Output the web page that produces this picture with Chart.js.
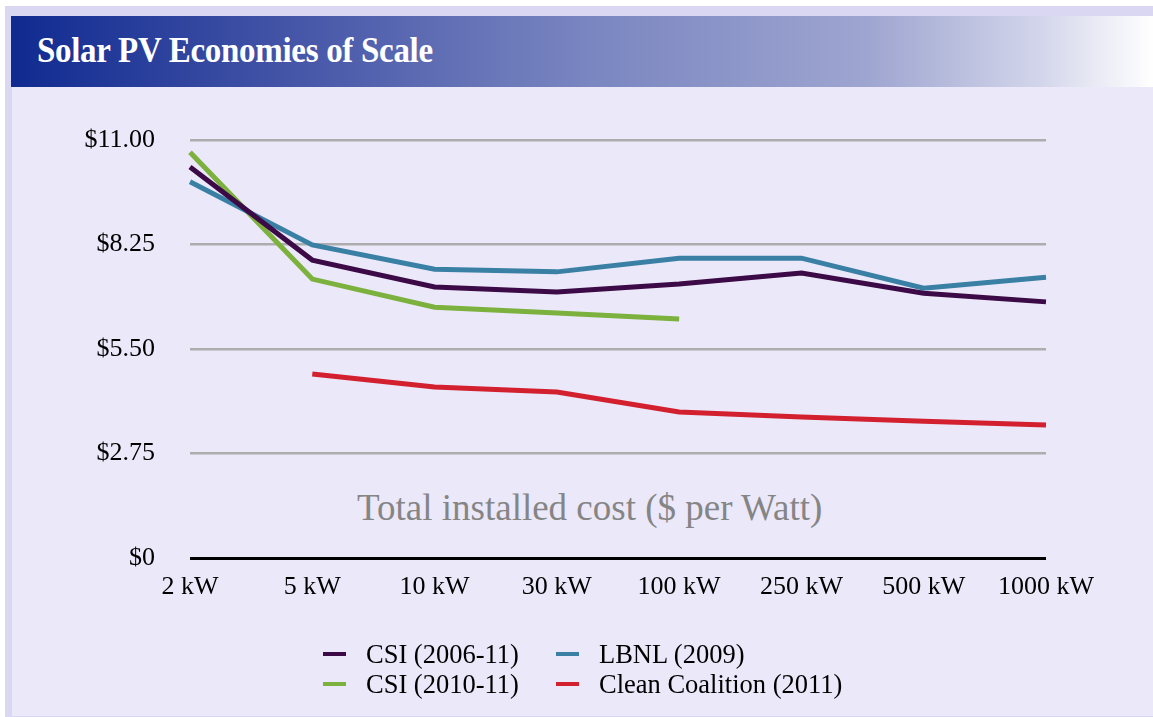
<!DOCTYPE html>
<html>
<head>
<meta charset="utf-8">
<script src="https://cdn.jsdelivr.net/npm/chart.js@4/dist/chart.umd.min.js"></script>
<style>
  html, body { margin: 0; padding: 0; background: #fff; }
  body { width: 1153px; height: 717px; position: relative; overflow: hidden; font-family: "Liberation Serif", "Times New Roman", serif; }
  #frame { position: absolute; left: 5px; top: 6px; right: 0; bottom: 0; background: #dad7f3; }
  #header { position: absolute; left: 11px; top: 16px; right: 0; height: 71px;
    background: linear-gradient(to right, #0f2a90 0%, #4656a8 25%, #7985c0 50%, #9ea5d0 75%, #d2d5ea 90%, #ffffff 100%); }
  #title { position: absolute; left: 37px; top: 31px; color: #fff; font-weight: bold; font-size: 33px; letter-spacing: -0.3px;
    transform: scaleY(1.06); transform-origin: left top; }
  #panel { position: absolute; left: 12px; top: 87px; right: 0; bottom: 1px; background: #ebe8fa; }
  #chart { position: absolute; left: 0; top: 0; }
  #note { position: absolute; left: 357px; top: 486px; font-size: 37px; color: #858585; white-space: nowrap; }
  .leg { position: absolute; font-size: 26.5px; color: #000; white-space: nowrap; line-height: 30px; }
  .mark { position: absolute; width: 23px; height: 4px; }
</style>
</head>
<body>
<div id="frame"></div>
<div id="header"></div>
<div id="title">Solar PV Economies of Scale</div>
<div id="panel"></div>
<div id="note">Total installed cost ($ per Watt)</div>
<canvas id="chart" width="1153" height="717"></canvas>
<div id="legend"></div>
<script>
const categories = ["2 kW", "5 kW", "10 kW", "30 kW", "100 kW", "250 kW", "500 kW", "1000 kW"];
const csi0611 = [10.29, 7.84, 7.13, 7.0, 7.21, 7.5, 6.97, 6.74];
const lbnl2009 = [9.9, 8.24, 7.6, 7.53, 7.89, 7.89, 7.1, 7.39];
const csi1011 = [10.68, 7.34, 6.6, 6.45, 6.29, null, null, null];
const cleanCoalition = [null, 4.84, 4.5, 4.37, 3.84, 3.71, 3.6, 3.5];
const yTicks = [0, 2.75, 5.5, 8.25, 11];

const seriesNames = ["CSI (2006-11)", "LBNL (2009)", "CSI (2010-11)", "Clean Coalition (2011)"];
const seriesData = [csi0611, lbnl2009, csi1011, cleanCoalition];
const seriesColors = ["#3c0a46", "#3a80a4", "#7bb13c", "#d2202f"];

const serif = "'Liberation Serif', 'Times New Roman', serif";

const ctx = document.getElementById("chart").getContext("2d");
new Chart(ctx, {
    type: "line",
    data: {
        labels: categories,
        datasets: seriesNames.map((name, i) => ({
            label: name,
            data: seriesData[i],
            borderColor: seriesColors[i],
            backgroundColor: seriesColors[i],
            borderWidth: 5,
            pointRadius: 0,
            tension: 0,
            spanGaps: false
        }))
    },
    options: {
        responsive: false,
        animation: false,
        layout: { padding: { left: 0, top: 140, right: 107, bottom: 99 } },
        plugins: { legend: { display: false }, tooltip: { enabled: false } },
        scales: {
            x: {
                offset: false,
                grid: { display: false, drawTicks: false },
                border: { display: false },
                ticks: { color: "#000", font: { family: serif, size: 26 }, padding: 14, maxRotation: 0 },
                afterFit: s => { s.height = 60; }
            },
            y: {
                min: 0,
                max: 11,
                afterBuildTicks: s => { s.ticks = yTicks.map(v => ({ value: v })); },
                grid: {
                    drawTicks: false,
                    color: c => c.tick.value === 0 ? "#000" : "#adadad",
                    lineWidth: c => c.tick.value === 0 ? 3 : 2.5
                },
                border: { display: false },
                ticks: {
                    color: "#000",
                    font: { family: serif, size: 26 },
                    padding: 35,
                    callback: v => v === 0 ? "$0" : "$" + v.toFixed(2)
                },
                afterFit: s => { s.width = 190; }
            }
        }
    }
});

// legend, two columns
const legend = document.getElementById("legend");
const legPos = [[323, 639], [556, 639], [323, 669], [556, 669]];
seriesNames.forEach((name, i) => {
    const [x, y] = legPos[i];
    const m = document.createElement("div");
    m.className = "mark";
    m.style.left = x + "px";
    m.style.top = (y + 13) + "px";
    m.style.background = seriesColors[i];
    legend.appendChild(m);
    const t = document.createElement("div");
    t.className = "leg";
    t.style.left = (x + 43) + "px";
    t.style.top = y + "px";
    t.textContent = name;
    legend.appendChild(t);
});
</script>
</body>
</html>
